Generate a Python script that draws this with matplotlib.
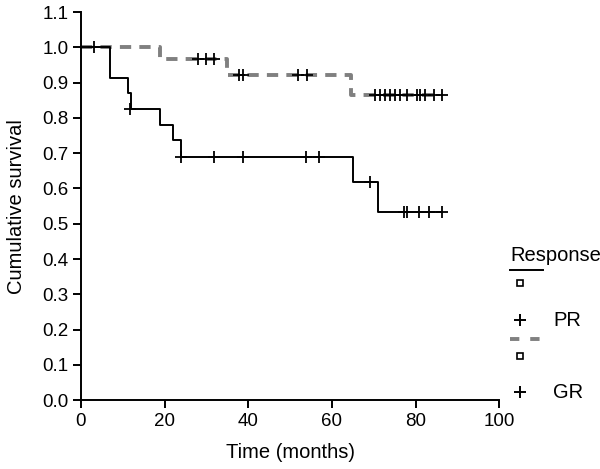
import numpy as np
import matplotlib.pyplot as plt

plt.rcParams['font.family'] = ['Liberation Sans', 'DejaVu Sans']

# PR group (solid black): step times and survival after each step
pr_times = [0, 7, 11.2, 12, 19, 22, 24, 65, 71, 86.3]
pr_surv = [1.0, 0.913, 0.870, 0.826, 0.779, 0.737, 0.689, 0.619, 0.532, 0.532]
pr_cens_t = [3, 11.7, 24, 31.8, 38.8, 53.8, 56.8, 69, 77.2, 77.9, 80.9, 83.1, 86.3]
pr_cens_s = [1.0, 0.826, 0.689, 0.689, 0.689, 0.689, 0.689, 0.619, 0.532, 0.532, 0.532, 0.532, 0.532]

# GR group (dashed grey)
gr_times = [0, 19, 35, 64.5, 86.3]
gr_surv = [1.0, 0.966, 0.923, 0.865, 0.865]
gr_cens_t = [27.9, 29.9, 31.8, 37.9, 38.7, 52, 54,
             70.3, 71.5, 72.7, 73.9, 75.1, 76.3, 77.9, 80.3, 81.1, 82.3, 84.3, 86.3]
gr_cens_s = [0.966] * 3 + [0.923] * 4 + [0.865] * 12

fig = plt.figure(figsize=(6, 4.69), dpi=100)
ax = fig.add_axes([0.135, 0.147, 0.697, 0.827])

gdash = (2.9, 2.1)
ax.step(gr_times, gr_surv, where='post', color='#808080', lw=2.8, dashes=gdash)
ax.step(pr_times, pr_surv, where='post', color='black', lw=1.4)
ax.plot(gr_cens_t, gr_cens_s, ls='none', marker='+', ms=9, mew=1.3, color='black')
ax.plot(pr_cens_t, pr_cens_s, ls='none', marker='+', ms=9, mew=1.3, color='black')

ax.set_xlim(0, 100)
ax.set_ylim(0, 1.1)
ax.set_xticks(np.arange(0, 101, 20))
ax.set_yticks(np.arange(0, 1.11, 0.1))
ax.set_yticklabels([f'{v:.1f}' for v in np.arange(0, 1.11, 0.1)])
for s in ['top', 'right']:
    ax.spines[s].set_visible(False)
ax.spines['left'].set_linewidth(1.4)
ax.spines['bottom'].set_linewidth(1.4)
ax.tick_params(direction='out', length=6, width=1.4, labelsize=13.5, pad=3)
ax.set_xlabel('Time (months)', fontsize=14.5, labelpad=10)
ax.set_ylabel('Cumulative survival', fontsize=14.5, labelpad=12)

# legend drawn in figure coordinates
ft = fig.transFigure
def fx(px):
    return px / 600
def fy(py):
    return 1 - py / 469
fig.text(fx(510), fy(255), 'Response', fontsize=14.5, va='center', ha='left')
fig.add_artist(plt.Line2D([fx(510), fx(543)], [fy(270), fy(270)], color='black', lw=1.4, transform=ft))
fig.add_artist(plt.Line2D([fx(520)], [fy(283)], marker='s', ms=4, mfc='white', mec='black', mew=1.2, ls='none', transform=ft))
fig.add_artist(plt.Line2D([fx(520)], [fy(320)], marker='+', ms=8, mew=1.4, color='black', ls='none', transform=ft))
fig.text(fx(553), fy(320), 'PR', fontsize=14.5, va='center', ha='left')
fig.add_artist(plt.Line2D([fx(510), fx(543)], [fy(339), fy(339)], color='#808080', lw=2.8, dashes=(2.4, 2.8), transform=ft))
fig.add_artist(plt.Line2D([fx(520)], [fy(356)], marker='s', ms=4, mfc='white', mec='black', mew=1.2, ls='none', transform=ft))
fig.add_artist(plt.Line2D([fx(520)], [fy(392)], marker='+', ms=8, mew=1.4, color='black', ls='none', transform=ft))
fig.text(fx(553), fy(392), 'GR', fontsize=14.5, va='center', ha='left')

fig.savefig('out.png', dpi=100)
